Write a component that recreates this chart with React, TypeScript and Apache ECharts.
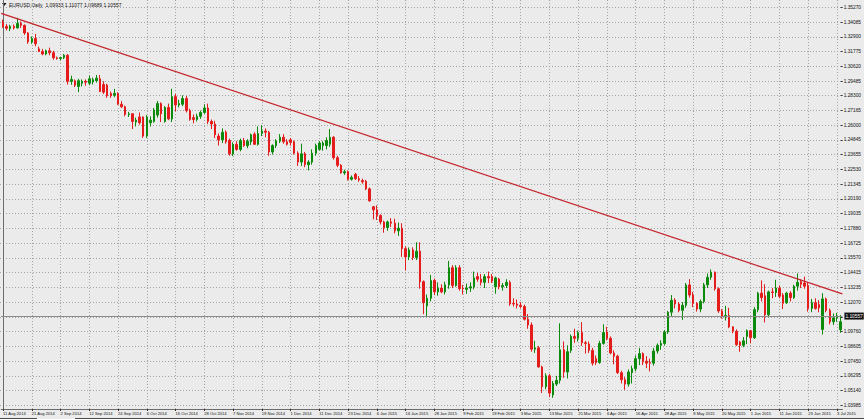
import React, { useEffect, useRef } from "react";
import * as echarts from "echarts";

// ---------- data ----------
const tradingDays: [string, number[]][] = [
  ["Aug 2014", [11, 12, 13, 14, 15, 18, 19, 20, 21, 22, 25, 26, 27, 28, 29]],
  ["Sep 2014", [1, 2, 3, 4, 5, 8, 9, 10, 11, 12, 15, 16, 17, 18, 19, 22, 23, 24, 25, 26, 29, 30]],
  ["Oct 2014", [1, 2, 3, 6, 7, 8, 9, 10, 13, 14, 15, 16, 17, 20, 21, 22, 23, 24, 27, 28, 29, 30, 31]],
  ["Nov 2014", [3, 4, 5, 6, 7, 10, 11, 12, 13, 14, 17, 18, 19, 20, 21, 24, 25, 26, 27, 28]],
  ["Dec 2014", [1, 2, 3, 4, 5, 8, 9, 10, 11, 12, 15, 16, 17, 18, 19, 22, 23, 24, 26, 29, 30, 31]],
  ["Jan 2015", [2, 5, 6, 7, 8, 9, 12, 13, 14, 15, 16, 19, 20, 21, 22, 23, 26, 27, 28, 29, 30]],
  ["Feb 2015", [2, 3, 4, 5, 6, 9, 10, 11, 12, 13, 16, 17, 18, 19, 20, 23, 24, 25, 26, 27]],
  ["Mar 2015", [2, 3, 4, 5, 6, 9, 10, 11, 12, 13, 16, 17, 18, 19, 20, 23, 24, 25, 26, 27, 30, 31]],
  ["Apr 2015", [1, 2, 3, 6, 7, 8, 9, 10, 13, 14, 15, 16, 17, 20, 21, 22, 23, 24, 27, 28, 29, 30]],
  ["May 2015", [1, 4, 5, 6, 7, 8, 11, 12, 13, 14, 15, 18, 19, 20, 21, 22, 25, 26, 27, 28, 29]],
  ["Jun 2015", [1, 2, 3, 4, 5, 8, 9, 10, 11, 12, 15, 16, 17, 18, 19, 22, 23, 24, 25, 26, 29, 30]],
  ["Jul 2015", [1, 2, 3, 6]],
];

// [open, close, low, high]
const candles: number[][] = [
  [1.3410, 1.3377, 1.3365, 1.3430], [1.3377, 1.3362, 1.3345, 1.3395], [1.3360, 1.3378, 1.3340, 1.3390],
  [1.3378, 1.3365, 1.3352, 1.3392], [1.3365, 1.3400, 1.3360, 1.3444], [1.3400, 1.3385, 1.3365, 1.3415],
  [1.3385, 1.3325, 1.3310, 1.3392], [1.3325, 1.3255, 1.3240, 1.3332], [1.3255, 1.3282, 1.3240, 1.3298],
  [1.3282, 1.3240, 1.3220, 1.3318], [1.3200, 1.3180, 1.3175, 1.3218], [1.3180, 1.3160, 1.3150, 1.3200],
  [1.3160, 1.3185, 1.3150, 1.3195], [1.3185, 1.3170, 1.3150, 1.3210], [1.3170, 1.3130, 1.3115, 1.3185],
  [1.3130, 1.3125, 1.3115, 1.3140], [1.3125, 1.3132, 1.3110, 1.3138], [1.3132, 1.3150, 1.3120, 1.3160],
  [1.3150, 1.2945, 1.2920, 1.3160], [1.2945, 1.2960, 1.2918, 1.2990], [1.2950, 1.2915, 1.2900, 1.2960],
  [1.2905, 1.2950, 1.2860, 1.2965], [1.2930, 1.2945, 1.2905, 1.2960], [1.2945, 1.2938, 1.2910, 1.2960],
  [1.2930, 1.2965, 1.2915, 1.2990], [1.2940, 1.2958, 1.2920, 1.2975], [1.2950, 1.2970, 1.2935, 1.2995],
  [1.2965, 1.2865, 1.2860, 1.2995], [1.2920, 1.2860, 1.2845, 1.2945], [1.2915, 1.2832, 1.2815, 1.2925],
  [1.2850, 1.2832, 1.2815, 1.2865], [1.2835, 1.2850, 1.2820, 1.2885], [1.2850, 1.2765, 1.2760, 1.2860],
  [1.2765, 1.2745, 1.2735, 1.2790], [1.2745, 1.2685, 1.2670, 1.2755], [1.2685, 1.2690, 1.2665, 1.2705],
  [1.2690, 1.2630, 1.2570, 1.2695], [1.2625, 1.2640, 1.2590, 1.2660], [1.2665, 1.2620, 1.2605, 1.2700],
  [1.2665, 1.2515, 1.2500, 1.2670], [1.2515, 1.2665, 1.2500, 1.2680], [1.2620, 1.2640, 1.2590, 1.2670],
  [1.2630, 1.2720, 1.2620, 1.2735], [1.2680, 1.2770, 1.2660, 1.2790], [1.2770, 1.2690, 1.2625, 1.2780],
  [1.2630, 1.2740, 1.2620, 1.2750], [1.2740, 1.2650, 1.2640, 1.2770], [1.2650, 1.2825, 1.2625, 1.2887],
  [1.2825, 1.2760, 1.2710, 1.2845], [1.2760, 1.2770, 1.2740, 1.2800], [1.2765, 1.2810, 1.2750, 1.2835],
  [1.2810, 1.2715, 1.2700, 1.2830], [1.2715, 1.2645, 1.2635, 1.2730], [1.2660, 1.2645, 1.2615, 1.2685],
  [1.2645, 1.2670, 1.2630, 1.2690], [1.2670, 1.2700, 1.2650, 1.2715], [1.2700, 1.2735, 1.2690, 1.2765],
  [1.2735, 1.2630, 1.2610, 1.2770], [1.2630, 1.2610, 1.2570, 1.2645], [1.2610, 1.2525, 1.2500, 1.2635],
  [1.2515, 1.2485, 1.2440, 1.2535], [1.2485, 1.2545, 1.2460, 1.2575], [1.2545, 1.2470, 1.2455, 1.2560],
  [1.2480, 1.2375, 1.2360, 1.2495], [1.2375, 1.2450, 1.2358, 1.2465], [1.2450, 1.2410, 1.2400, 1.2475],
  [1.2410, 1.2480, 1.2395, 1.2495], [1.2480, 1.2440, 1.2430, 1.2500], [1.2440, 1.2475, 1.2420, 1.2490],
  [1.2470, 1.2525, 1.2445, 1.2535], [1.2530, 1.2450, 1.2445, 1.2545], [1.2450, 1.2535, 1.2440, 1.2590],
  [1.2535, 1.2555, 1.2515, 1.2600], [1.2555, 1.2545, 1.2505, 1.2575], [1.2545, 1.2390, 1.2360, 1.2555],
  [1.2390, 1.2440, 1.2370, 1.2450], [1.2440, 1.2475, 1.2420, 1.2490], [1.2475, 1.2505, 1.2460, 1.2530],
  [1.2505, 1.2470, 1.2455, 1.2530], [1.2470, 1.2450, 1.2440, 1.2490], [1.2485, 1.2465, 1.2440, 1.2500],
  [1.2470, 1.2380, 1.2370, 1.2480], [1.2380, 1.2310, 1.2280, 1.2395], [1.2310, 1.2375, 1.2280, 1.2455],
  [1.2375, 1.2290, 1.2270, 1.2390], [1.2290, 1.2310, 1.2245, 1.2325], [1.2310, 1.2380, 1.2290, 1.2410],
  [1.2380, 1.2440, 1.2360, 1.2455], [1.2410, 1.2460, 1.2400, 1.2475], [1.2440, 1.2460, 1.2400, 1.2475],
  [1.2440, 1.2480, 1.2410, 1.2505], [1.2450, 1.2505, 1.2430, 1.2570], [1.2505, 1.2345, 1.2330, 1.2515],
  [1.2345, 1.2285, 1.2270, 1.2360], [1.2285, 1.2225, 1.2220, 1.2295], [1.2225, 1.2235, 1.2210, 1.2250],
  [1.2235, 1.2175, 1.2165, 1.2245], [1.2175, 1.2190, 1.2165, 1.2205], [1.2215, 1.2180, 1.2170, 1.2225],
  [1.2180, 1.2170, 1.2155, 1.2200], [1.2165, 1.2155, 1.2140, 1.2180], [1.2160, 1.2100, 1.2090, 1.2170],
  [1.2100, 1.2005, 1.2000, 1.2110], [1.1960, 1.1935, 1.1860, 1.1965], [1.1935, 1.1890, 1.1855, 1.1970],
  [1.1890, 1.1840, 1.1820, 1.1900], [1.1840, 1.1795, 1.1755, 1.1850], [1.1795, 1.1840, 1.1770, 1.1850],
  [1.1840, 1.1830, 1.1800, 1.1870], [1.1830, 1.1770, 1.1750, 1.1865], [1.1770, 1.1790, 1.1730, 1.1835],
  [1.1790, 1.1630, 1.1565, 1.1830], [1.1630, 1.1565, 1.1460, 1.1650], [1.1565, 1.1620, 1.1540, 1.1640],
  [1.1620, 1.1560, 1.1540, 1.1640], [1.1560, 1.1610, 1.1540, 1.1680], [1.1610, 1.1370, 1.1315, 1.1680],
  [1.1370, 1.1205, 1.1115, 1.1380], [1.1180, 1.1240, 1.1098, 1.1270], [1.1240, 1.1380, 1.1215, 1.1423],
  [1.1380, 1.1290, 1.1265, 1.1395], [1.1290, 1.1320, 1.1260, 1.1365], [1.1320, 1.1290, 1.1280, 1.1350],
  [1.1290, 1.1345, 1.1270, 1.1370], [1.1345, 1.1480, 1.1315, 1.1534], [1.1480, 1.1340, 1.1320, 1.1500],
  [1.1340, 1.1480, 1.1330, 1.1500], [1.1480, 1.1315, 1.1300, 1.1500], [1.1320, 1.1315, 1.1270, 1.1345],
  [1.1310, 1.1320, 1.1275, 1.1355], [1.1320, 1.1330, 1.1290, 1.1365], [1.1330, 1.1400, 1.1310, 1.1450],
  [1.1410, 1.1390, 1.1370, 1.1440], [1.1390, 1.1365, 1.1340, 1.1430], [1.1365, 1.1410, 1.1320, 1.1430],
  [1.1410, 1.1400, 1.1360, 1.1450], [1.1410, 1.1375, 1.1360, 1.1430], [1.1330, 1.1400, 1.1275, 1.1410],
  [1.1390, 1.1330, 1.1310, 1.1400], [1.1330, 1.1340, 1.1300, 1.1360], [1.1340, 1.1365, 1.1320, 1.1390],
  [1.1365, 1.1195, 1.1180, 1.1380], [1.1200, 1.1195, 1.1175, 1.1240], [1.1195, 1.1185, 1.1160, 1.1230],
  [1.1185, 1.1175, 1.1160, 1.1210], [1.1175, 1.1075, 1.1065, 1.1190], [1.1075, 1.1030, 1.1000, 1.1115],
  [1.1030, 1.0840, 1.0820, 1.1050], [1.0840, 1.0850, 1.0810, 1.0905], [1.0850, 1.0700, 1.0695, 1.0865],
  [1.0700, 1.0545, 1.0495, 1.0710], [1.0545, 1.0630, 1.0525, 1.0650], [1.0630, 1.0495, 1.0462, 1.0645],
  [1.0480, 1.0570, 1.0457, 1.0590], [1.0565, 1.0595, 1.0550, 1.0630], [1.0595, 1.0835, 1.0570, 1.1043],
  [1.0835, 1.0660, 1.0615, 1.0900], [1.0660, 1.0820, 1.0610, 1.0870], [1.0830, 1.0940, 1.0810, 1.0955],
  [1.0940, 1.0925, 1.0890, 1.1000], [1.0925, 1.0970, 1.0900, 1.0985], [1.0970, 1.0890, 1.0865, 1.1052],
  [1.0890, 1.0885, 1.0805, 1.0905], [1.0880, 1.0830, 1.0810, 1.0900], [1.0830, 1.0730, 1.0710, 1.0850],
  [1.0765, 1.0735, 1.0715, 1.0790], [1.0735, 1.0885, 1.0725, 1.0905], [1.0885, 1.0970, 1.0875, 1.1035],
  [1.0975, 1.0925, 1.0910, 1.1015], [1.0925, 1.0810, 1.0800, 1.0940], [1.0810, 1.0785, 1.0720, 1.0830],
  [1.0785, 1.0655, 1.0645, 1.0795], [1.0655, 1.0600, 1.0570, 1.0670], [1.0600, 1.0565, 1.0520, 1.0620],
  [1.0565, 1.0660, 1.0545, 1.0680], [1.0655, 1.0685, 1.0570, 1.0710], [1.0685, 1.0765, 1.0665, 1.0790],
  [1.0765, 1.0805, 1.0715, 1.0850], [1.0805, 1.0740, 1.0715, 1.0815], [1.0745, 1.0730, 1.0690, 1.0785],
  [1.0735, 1.0730, 1.0665, 1.0765], [1.0730, 1.0825, 1.0710, 1.0850], [1.0825, 1.0870, 1.0805, 1.0885],
  [1.0870, 1.0885, 1.0835, 1.0910], [1.0885, 1.0975, 1.0870, 1.0990], [1.0975, 1.1130, 1.0960, 1.1140],
  [1.1130, 1.1225, 1.1100, 1.1265], [1.1225, 1.1195, 1.1160, 1.1240], [1.1195, 1.1145, 1.1130, 1.1210],
  [1.1145, 1.1185, 1.1070, 1.1210], [1.1185, 1.1345, 1.1165, 1.1360], [1.1345, 1.1265, 1.1245, 1.1390],
  [1.1265, 1.1200, 1.1170, 1.1290], [1.1200, 1.1155, 1.1135, 1.1210], [1.1155, 1.1215, 1.1130, 1.1230],
  [1.1215, 1.1345, 1.1200, 1.1360], [1.1345, 1.1405, 1.1320, 1.1435], [1.1405, 1.1445, 1.1385, 1.1467],
  [1.1445, 1.1315, 1.1300, 1.1450], [1.1315, 1.1140, 1.1125, 1.1325], [1.1140, 1.1095, 1.1080, 1.1155],
  [1.1095, 1.1105, 1.1065, 1.1180], [1.1105, 1.1015, 1.1005, 1.1165], [1.1015, 1.0980, 1.0965, 1.1020],
  [1.0980, 1.0875, 1.0865, 1.0995], [1.0895, 1.0870, 1.0819, 1.0905], [1.0870, 1.0905, 1.0855, 1.0935],
  [1.0940, 1.0985, 1.0880, 1.0995], [1.0985, 1.0930, 1.0885, 1.0990], [1.0930, 1.1150, 1.0920, 1.1170],
  [1.1150, 1.1280, 1.1130, 1.1290], [1.1280, 1.1245, 1.1215, 1.1380], [1.1260, 1.1110, 1.1050, 1.1350],
  [1.1110, 1.1290, 1.1090, 1.1300], [1.1290, 1.1285, 1.1240, 1.1320], [1.1285, 1.1320, 1.1250, 1.1385],
  [1.1320, 1.1255, 1.1240, 1.1340], [1.1265, 1.1200, 1.1155, 1.1280], [1.1205, 1.1280, 1.1195, 1.1290],
  [1.1280, 1.1245, 1.1215, 1.1295], [1.1245, 1.1335, 1.1235, 1.1345], [1.1335, 1.1365, 1.1300, 1.1435],
  [1.1370, 1.1350, 1.1320, 1.1390], [1.1360, 1.1335, 1.1315, 1.1410], [1.1340, 1.1160, 1.1135, 1.1360],
  [1.1160, 1.1205, 1.1130, 1.1235], [1.1205, 1.1160, 1.1150, 1.1240], [1.1190, 1.1165, 1.1130, 1.1225],
  [1.0995, 1.1235, 1.0955, 1.1280], [1.1235, 1.1145, 1.1130, 1.1245], [1.1145, 1.1055, 1.1035, 1.1160],
  [1.1055, 1.1085, 1.1030, 1.1120], [1.1085, 1.1100, 1.1055, 1.1125], [1.09933, 1.10557, 1.09689, 1.11077],
];

// right-hand price scale labels, bottom to top
const priceLabels = [
  "1.03985", "1.05140", "1.06295", "1.07450", "1.08605", "1.09760", "1.10915", "1.12070",
  "1.13235", "1.14415", "1.15570", "1.16725", "1.17880", "1.19035", "1.20190", "1.21345",
  "1.22530", "1.23655", "1.24845", "1.26000", "1.27165", "1.28300", "1.29485", "1.30620",
  "1.31775", "1.32900", "1.34085", "1.35270",
];
// the label hidden behind the current-price box
const coveredLabel = "1.10915";
const priceMin = 1.03985;
const priceMax = 1.3527;

// trend line (bar position, price) at both chart edges
const trendBars = [-0.5, 233.5];
const trendPrices = [1.3479, 1.1274];

const bidPrice = 1.10557;
const bidLabel = "1.10557";
const titleText = "EURUSD,Daily  1.09933 1.11077 1.09689 1.10557";

// ---------- layout / style ----------
const W = 864;
const H = 419;
const PLOT_W = 842.4;
const PLOT_H = 409;
const LABEL_TOP = 7.3;
const LABEL_BOTTOM = 405.3;
const GRID_COLOR = "#a4a4a4";
const FRAME = "#6c6c6c";
const BULL = "#0c8a0c";
const BEAR = "#e41c1c";
const FONT = "'Liberation Sans', Arial, sans-serif";

export default function App() {
  const ref = useRef<HTMLDivElement>(null);

  useEffect(() => {
    if (!ref.current) return;
    const chart = echarts.init(ref.current, null, { renderer: "svg", width: W, height: H });

    const categories = tradingDays.flatMap(([m, days]) => days.map((d) => `${d} ${m}`));
    const step = (priceMax - priceMin) / (priceLabels.length - 1);
    const perPx = (priceMax - priceMin) / (LABEL_BOTTOM - LABEL_TOP);
    const outerMin = priceMin - (PLOT_H - LABEL_BOTTOM) * perPx;
    const outerMax = priceMax + LABEL_TOP * perPx;

    const option: any = {
      animation: false,
      backgroundColor: "transparent",
      textStyle: { fontFamily: FONT },
      grid: [
        { left: 0, top: 0, width: PLOT_W, height: PLOT_H },
        { left: 0, top: LABEL_TOP, width: PLOT_W, height: LABEL_BOTTOM - LABEL_TOP },
      ],
      xAxis: [
        {
          type: "category",
          gridIndex: 0,
          data: categories,
          boundaryGap: true,
          axisLine: { show: true, onZero: false, lineStyle: { color: FRAME, width: 1 } },
          axisTick: { show: true, interval: 7, alignWithLabel: true, length: 2, lineStyle: { color: "#333" } },
          axisLabel: {
            interval: 7,
            align: "left",
            margin: 2,
            fontSize: 4.1,
            color: "#111",
            fontFamily: FONT,
          },
          splitLine: {
            show: true,
            interval: 7,
            alignWithLabel: true,
            lineStyle: { color: GRID_COLOR, type: [1, 2], width: 1 },
          },
        },
        { type: "value", gridIndex: 0, min: -0.5, max: categories.length - 0.5, show: false },
        { type: "category", gridIndex: 1, data: categories, show: false },
      ],
      yAxis: [
        {
          type: "value",
          gridIndex: 0,
          position: "right",
          min: outerMin,
          max: outerMax,
          axisLine: { show: true, lineStyle: { color: FRAME, width: 1 } },
          axisTick: { show: false },
          axisLabel: { show: false },
          splitLine: { show: false },
        },
        {
          type: "value",
          gridIndex: 1,
          position: "right",
          min: priceMin,
          max: priceMax,
          interval: step,
          axisLine: { show: false },
          axisTick: { show: true, length: 2, lineStyle: { color: "#333" } },
          axisLabel: {
            margin: 3,
            fontSize: 4.8,
            color: "#111",
            fontFamily: FONT,
            formatter: (v: number) => {
              const s = priceLabels[Math.round((v - priceMin) / step)] ?? "";
              return s === coveredLabel ? "" : s;
            },
          },
          splitLine: { show: true, lineStyle: { color: GRID_COLOR, type: [1, 2], width: 1 } },
        },
      ],
      series: [
        {
          type: "candlestick",
          xAxisIndex: 0,
          yAxisIndex: 0,
          data: candles,
          barWidth: 2,
          clip: false,
          itemStyle: {
            color: BULL,
            color0: BEAR,
            borderColor: BULL,
            borderColor0: BEAR,
            borderWidth: 1,
          },
          markLine: {
            silent: true,
            symbol: ["none", "none"],
            data: [{ yAxis: bidPrice }],
            lineStyle: { color: "#8a8a8a", type: "solid", width: 1 },
            label: {
              show: true,
              position: "end",
              formatter: bidLabel,
              color: "#fff",
              backgroundColor: "#111",
              fontSize: 4.8,
              fontFamily: FONT,
              padding: [1, 1, 1, 1],
              distance: 2,
            },
          },
        },
        {
          type: "line",
          xAxisIndex: 1,
          yAxisIndex: 0,
          data: trendBars.map((b, i) => [b, trendPrices[i]]),
          symbol: "none",
          silent: true,
          lineStyle: { color: "#c5222b", width: 1.2 },
        },
      ],
      graphic: [
        {
          type: "polygon",
          shape: { points: [[2, 3], [6.5, 3], [4.25, 6]] },
          style: { fill: "#111" },
        },
        {
          type: "text",
          x: 9,
          y: 2,
          style: { text: titleText, fontSize: 5, fill: "#111", fontFamily: FONT, verticalAlign: "top" },
        },
        { type: "line", shape: { x1: 0, y1: 418.5, x2: 37, y2: 418.5 }, style: { stroke: "#4a4a4a", lineWidth: 1 } },
        { type: "line", shape: { x1: 75, y1: 418.5, x2: W, y2: 418.5 }, style: { stroke: "#4a4a4a", lineWidth: 1 } },
      ],
    };

    chart.setOption(option);
    return () => chart.dispose();
  }, []);

  return (
    <div
      ref={ref}
      style={{ position: "fixed", left: 0, top: 0, width: W, height: H, background: "#ebebeb" }}
    />
  );
}
